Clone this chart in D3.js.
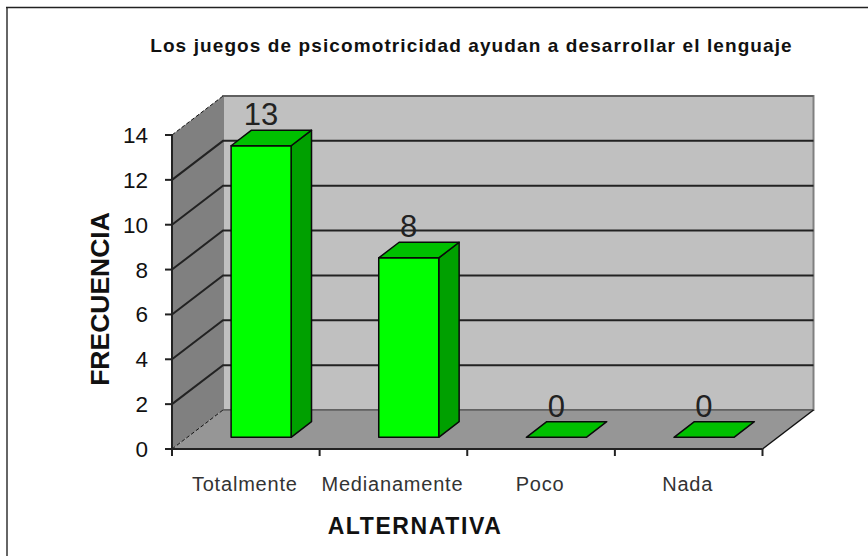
<!DOCTYPE html>
<html><head><meta charset="utf-8">
<style>html,body{margin:0;padding:0;background:#fff}svg{display:block}text{font-family:"Liberation Sans",Arial,sans-serif}</style>
<script src="https://cdn.jsdelivr.net/npm/d3@7"></script></head><body>
<svg id="c" width="868" height="556"></svg>
<script>
const categories=["Totalmente","Medianamente","Poco","Nada"];
const values=[13,8,0,0];
const yTicks=[0,2,4,6,8,10,12,14];
const titleText="Los juegos de psicomotricidad ayudan a desarrollar el lenguaje";
const xTitle="ALTERNATIVA";
const yTitle="FRECUENCIA";

const svg=d3.select("#c");
const x=d3.scaleBand().domain(categories).range([172,762.5]);
const y=d3.scaleLinear().domain([0,14]).range([449,135]);
const dx=51,dy=-39;
const barW=60,d0=0.3,d1=0.7;
const pts=a=>a.map(p=>p.join(",")).join(" ");
const px=(xv,f)=>xv+dx*f, py=(yv,f)=>yv+dy*f;

svg.append("line").attr("x1",7).attr("x2",7).attr("y1",7).attr("y2",556).attr("stroke","#666").attr("stroke-width",2);
svg.append("line").attr("x1",6).attr("x2",868).attr("y1",7.5).attr("y2",7.5).attr("stroke","#222").attr("stroke-width",1.5);

const L=x.range()[0],R=x.range()[1],T=y(14),B=y(0);
// walls
svg.append("polygon").attr("points",pts([[L+dx,T+dy],[R+dx,T+dy],[R+dx,B+dy],[L+dx,B+dy]])).attr("fill","#c0c0c0").attr("stroke","#808080").attr("stroke-width",2);
svg.append("line").attr("x1",L+dx).attr("x2",R+dx).attr("y1",T+dy).attr("y2",T+dy).attr("stroke","#606060").attr("stroke-width",2);
svg.append("polygon").attr("points",pts([[L,T],[L+dx,T+dy],[L+dx,B+dy],[L,B]])).attr("fill","#808080");
svg.append("polygon").attr("points",pts([[L,B],[L+dx,B+dy],[R+dx,B+dy],[R,B]])).attr("fill","#969696");
// gridlines
const g=svg.append("g").attr("fill","none").attr("stroke","#222").attr("stroke-width",2);
yTicks.filter(t=>t>0&&t<14).forEach(t=>{
  g.append("path").attr("d",`M${L},${y(t)}L${L+dx},${y(t)+dy}L${R+dx},${y(t)+dy}`);
});
// dashed edges
[[T],[B]].forEach(([v])=>svg.append("line").attr("x1",L).attr("y1",v).attr("x2",L+dx).attr("y2",v+dy).attr("stroke","#111").attr("stroke-dasharray","4 2"));
svg.append("line").attr("x1",L+dx).attr("y1",B+dy).attr("x2",R+dx).attr("y2",B+dy).attr("stroke","#444");
svg.append("line").attr("x1",R).attr("y1",B).attr("x2",R+dx).attr("y2",B+dy).attr("stroke","#111").attr("stroke-width",1.5);
// axes
const ax=svg.append("g").attr("stroke","#222").attr("stroke-width",2);
ax.append("line").attr("x1",L).attr("x2",L).attr("y1",T).attr("y2",B+7);
ax.append("line").attr("x1",L-7).attr("x2",R).attr("y1",B).attr("y2",B);
yTicks.forEach(t=>ax.append("line").attr("x1",L-7).attr("x2",L).attr("y1",y(t)).attr("y2",y(t)));
x.domain().forEach(c=>ax.append("line").attr("x1",x(c)).attr("x2",x(c)).attr("y1",B).attr("y2",B+7));
ax.append("line").attr("x1",R).attr("x2",R).attr("y1",B).attr("y2",B+7);
// bars
const lineC="#0a0a0a";
categories.forEach((c,i)=>{
  const v=values[i];
  const x0=x(c)+x.bandwidth()/2-barW/2, x1=x0+barW;
  const A=(xv,yv,f)=>[px(xv,f),py(yv,f)];
  const gb=svg.append("g").attr("stroke",lineC).attr("stroke-width",1.5).attr("stroke-linejoin","round");
  if(v>0){
    gb.append("polygon").attr("points",pts([A(x1,y(0),d0),A(x1,y(0),d1),A(x1,y(v),d1),A(x1,y(v),d0)])).attr("fill","#00a000");
    gb.append("polygon").attr("points",pts([A(x0,y(v),d0),A(x1,y(v),d0),A(x1,y(0),d0),A(x0,y(0),d0)])).attr("fill","#00ff00");
  }
  gb.append("polygon").attr("points",pts([A(x0,y(v),d0),A(x1,y(v),d0),A(x1,y(v),d1),A(x0,y(v),d1)])).attr("fill","#00c000");
  svg.append("text").attr("x",px(x0+barW/2,d0)).attr("y",py(y(v),d1)-5).attr("text-anchor","middle").attr("font-size",31).attr("fill","#222").text(v);
  svg.append("text").attr("x",x(c)+x.bandwidth()/2-1).attr("y",491).attr("text-anchor","middle").attr("font-size",20).attr("letter-spacing",0.8).attr("fill","#333").text(c);
});
yTicks.forEach(t=>svg.append("text").attr("x",148).attr("y",y(t)+8).attr("text-anchor","end").attr("font-size",22.5).attr("fill","#111").text(t));
svg.append("text").attr("x",471.5).attr("y",52).attr("text-anchor","middle").attr("font-size",19).attr("letter-spacing",1.1).attr("font-weight","bold").attr("fill","#111").text(titleText);
svg.append("text").attr("x",415).attr("y",534).attr("text-anchor","middle").attr("font-size",23).attr("letter-spacing",1.6).attr("font-weight","bold").attr("fill","#111").text(xTitle);
svg.append("text").attr("transform","translate(109,299) rotate(-90)").attr("text-anchor","middle").attr("font-size",26.5).attr("font-weight","bold").attr("fill","#111").text(yTitle);
</script></body></html>
